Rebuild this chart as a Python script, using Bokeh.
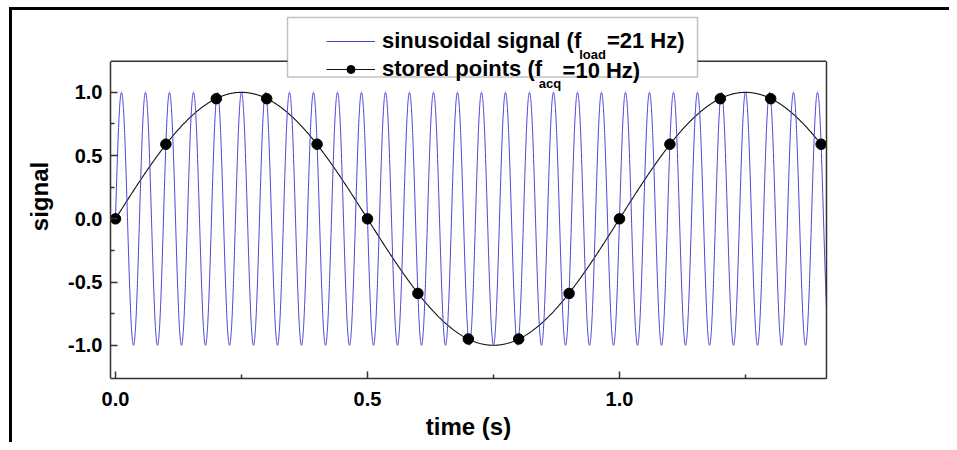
import numpy as np
from bokeh.plotting import figure
from bokeh.models import (Range1d, LinearAxis, FixedTicker, PrintfTickFormatter,
                          Legend, LegendItem, BoxAnnotation, Label, Span)
from bokeh.embed import file_html
from bokeh.resources import INLINE

# ---- data ----
f_load = 21.0          # Hz, sinusoidal signal
f_acq = 10.0           # Hz, acquisition rate
stored_t = [0.0, 0.1, 0.2, 0.3, 0.4, 0.5, 0.6, 0.7, 0.8, 0.9, 1.0, 1.1, 1.2, 1.3, 1.4]
stored_v = [0.00, 0.59, 0.95, 0.95, 0.59, 0.00, -0.59, -0.95, -0.95, -0.59,
            0.00, 0.59, 0.95, 0.95, 0.59]
x_ticks = [0.0, 0.5, 1.0]
x_minor = [0.25, 0.75, 1.25]
y_ticks = [-1.0, -0.5, 0.0, 0.5, 1.0]
y_minor = [-0.75, -0.25, 0.25, 0.75]
y_lo, y_hi = -1.2627, 1.247      # plotted signal box
x_lo, x_hi = -0.0099, 1.4107

# continuous curves (signal and its alias seen through the stored points)
t_sig = np.linspace(0.0, x_hi, 6000)
sig = np.sin(2 * np.pi * f_load * t_sig)
f_alias = abs(f_load - 2 * f_acq)
t_al = np.linspace(stored_t[0], stored_t[-1], 1500)
alias = np.sin(2 * np.pi * f_alias * t_al)

FONT = "Liberation Sans"
AX = "#333333"

p = figure(width=949, height=442,
           x_range=Range1d(x_lo, x_hi), y_range=Range1d(y_lo, 1.6157),
           output_backend="svg", toolbar_location=None,
           x_axis_location=None, y_axis_location=None,
           min_border_left=110, min_border_right=123,
           min_border_top=14, min_border_bottom=61)
p.outline_line_color = None
p.xgrid.visible = False
p.ygrid.visible = False
p.background_fill_color = "white"
p.border_fill_alpha = 0.0
p.styles = {
    "background-image": "linear-gradient(#000,#000), linear-gradient(#000,#000)",
    "background-size": "3px 100%, 100% 3px",
    "background-position": "9px 7px, 9px 7px",
    "background-repeat": "no-repeat",
}

def style_axis(ax):
    ax.axis_line_color = AX
    ax.axis_line_width = 1.5
    ax.major_tick_line_color = AX
    ax.major_tick_line_width = 1.5
    ax.minor_tick_line_color = AX
    ax.minor_tick_line_width = 1.5
    ax.major_tick_in = 7
    ax.major_tick_out = 0
    ax.minor_tick_in = 4
    ax.minor_tick_out = 0
    ax.major_label_text_font = FONT
    ax.major_label_text_font_style = "bold"
    ax.major_label_text_font_size = "20px"
    ax.major_label_text_color = "black"
    ax.axis_label_text_font = FONT
    ax.axis_label_text_font_style = "bold"
    ax.axis_label_text_font_size = "24px"
    ax.axis_label_text_color = "black"

xa = LinearAxis(ticker=FixedTicker(ticks=x_ticks, minor_ticks=x_minor),
                formatter=PrintfTickFormatter(format="%.1f"), axis_label="time (s)")
style_axis(xa)
xa.major_label_standoff = 13
xa.axis_label_standoff = 4
ya = LinearAxis(ticker=FixedTicker(ticks=y_ticks, minor_ticks=y_minor),
                formatter=PrintfTickFormatter(format="%.1f"), axis_label="signal",
                bounds=(y_lo, y_hi))
style_axis(ya)
ya.major_label_standoff = 8
ya.axis_label_standoff = 12
ra = LinearAxis(ticker=FixedTicker(ticks=[]), bounds=(y_lo, y_hi))
style_axis(ra)
p.add_layout(xa, "below")
p.add_layout(ya, "left")
p.add_layout(ra, "right")
p.add_layout(Span(location=y_hi, dimension="width", line_color=AX, line_width=1.5))

r_al = p.line(t_al, alias, line_color="#111111", line_width=1.1)
r_sig = p.line(t_sig, sig, line_color="#4646d2", line_width=1.0)
r_pts = p.scatter(stored_t, stored_v, size=10.5, fill_color="black", line_color="black")

box = BoxAnnotation(left=0.3413, right=1.1548, top=1.5922, bottom=1.1216,
                    fill_color="white", fill_alpha=1.0,
                    line_color=AX, line_width=1.5)
p.add_layout(box)

legend = Legend(items=[LegendItem(label="sinusoidal signal (f", renderers=[r_sig]),
                       LegendItem(label="stored points (f", renderers=[r_al, r_pts])],
                location=(216, 296), padding=0, margin=0, spacing=2,
                glyph_width=49, glyph_height=20, label_height=20, label_standoff=7,
                border_line_color=None, background_fill_alpha=0.0,
                label_text_font=FONT, label_text_font_style="bold",
                label_text_font_size="22px", label_text_color="black")
p.add_layout(legend, "center")

for x, y, txt, size in [(0.920, 1.302, "load", "13px"), (0.975, 1.4118, "=21 Hz)", "22px"),
                        (0.840, 1.0667, "acq", "13px"), (0.887, 1.1725, "=10 Hz)", "22px")]:
    p.add_layout(Label(x=x, y=y, text=txt, text_font=FONT, text_font_style="bold",
                       text_font_size=size, text_baseline="middle", text_color="black"))

open("out.html", "w").write(file_html(p, INLINE))
